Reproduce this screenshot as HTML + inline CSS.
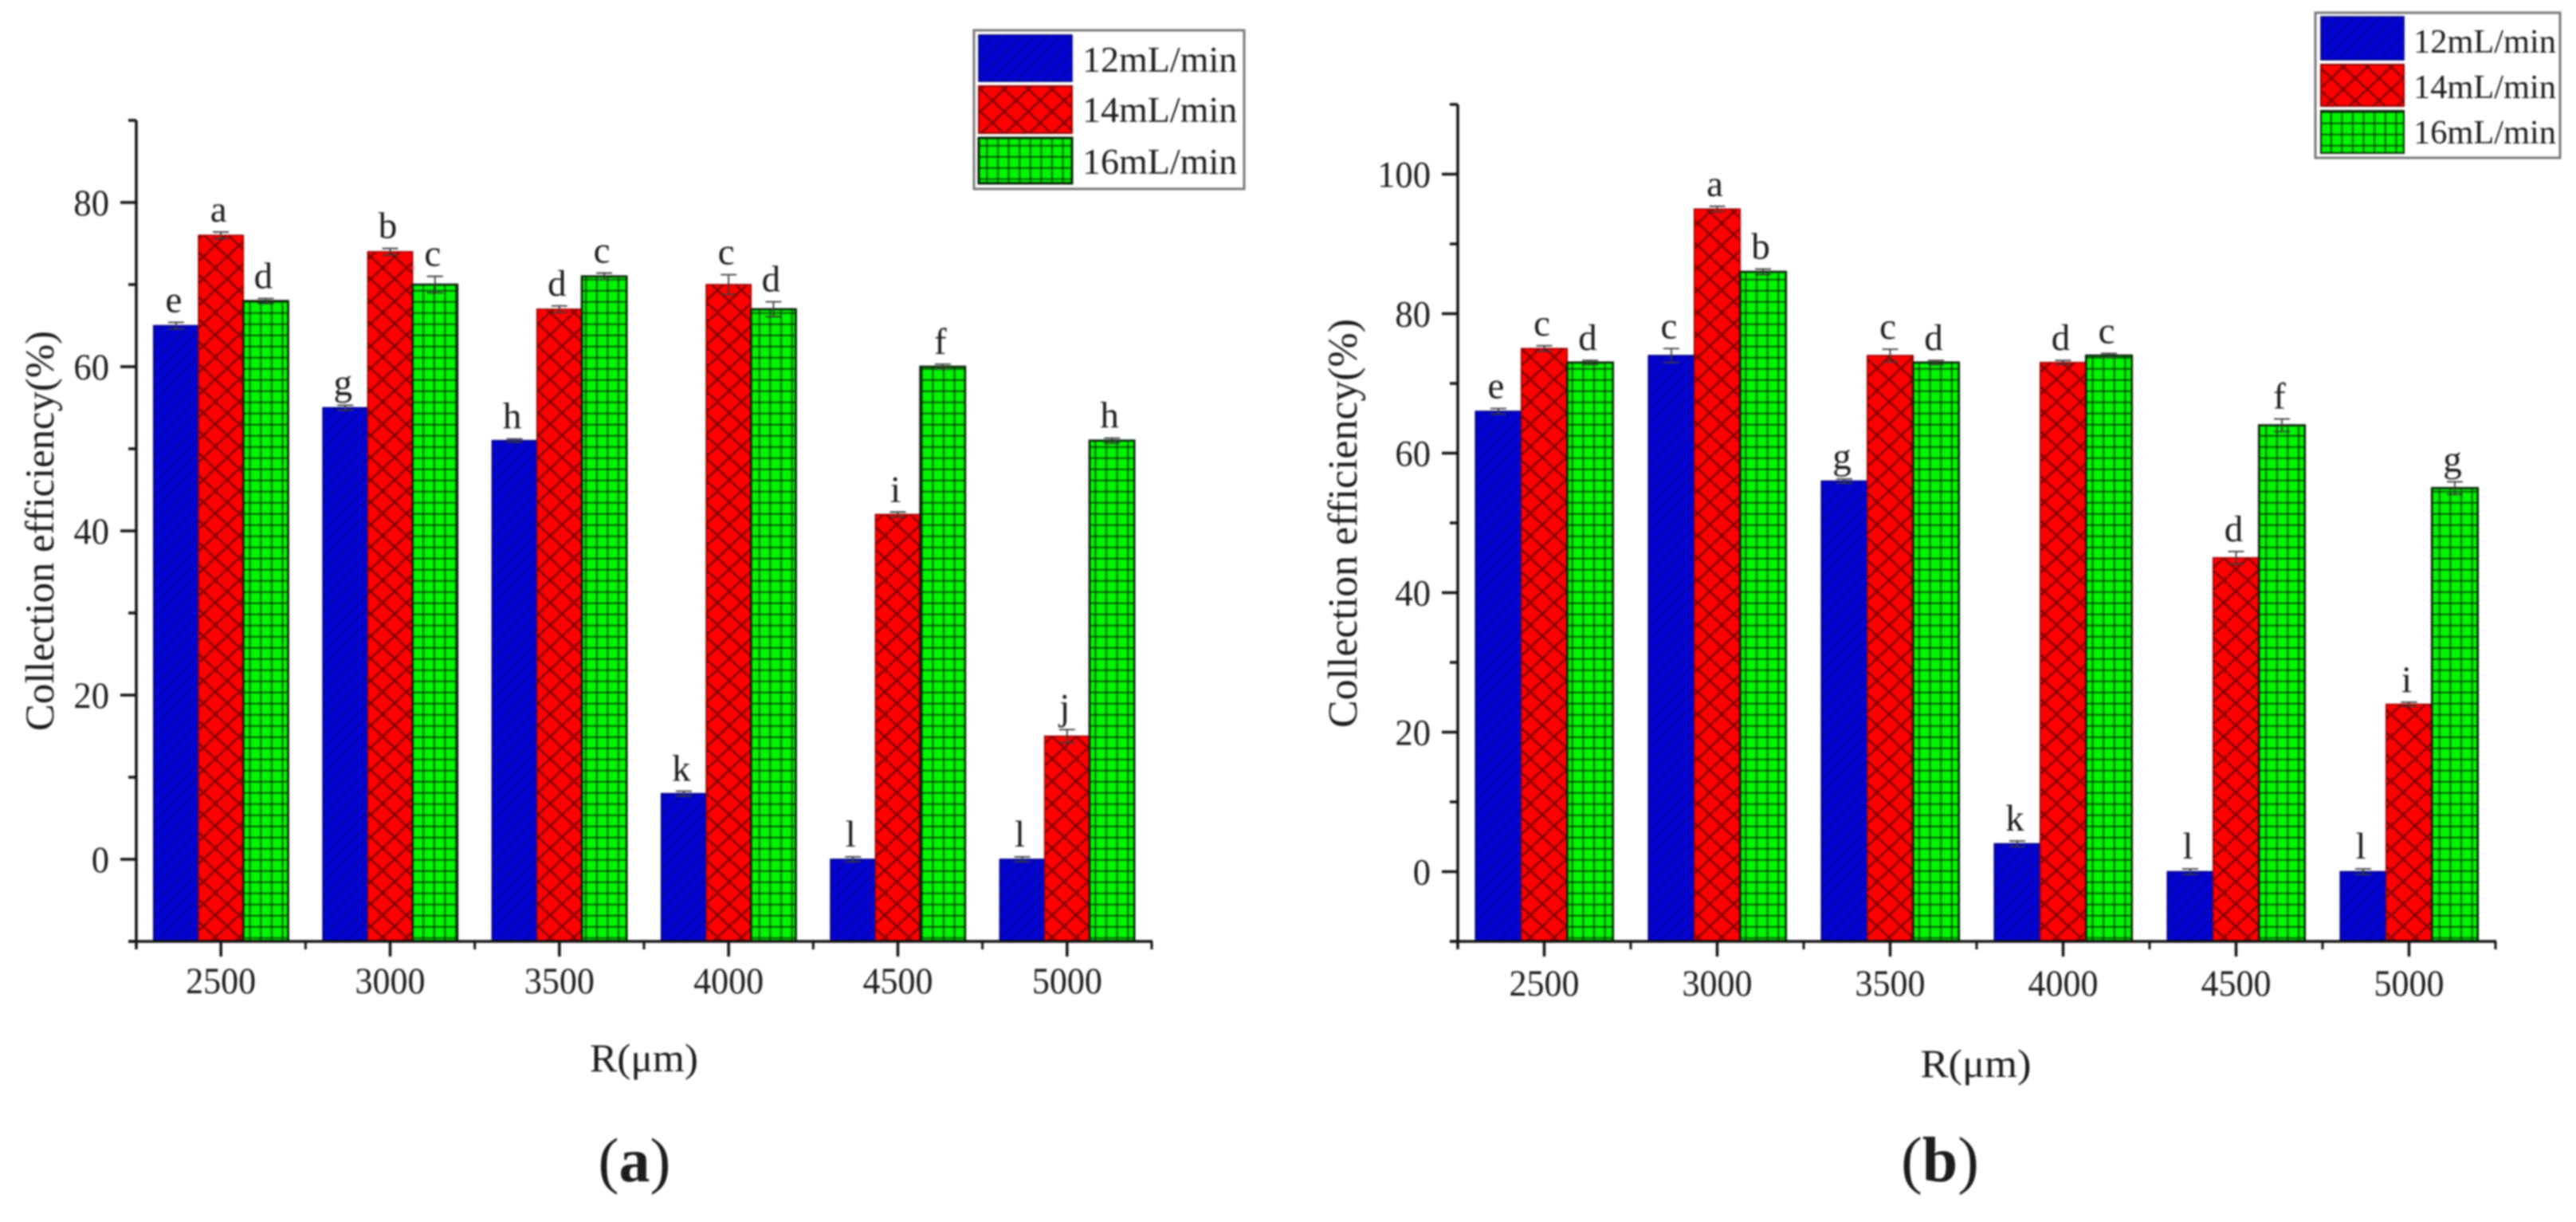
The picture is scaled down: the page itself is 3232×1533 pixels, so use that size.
<!DOCTYPE html>
<html lang="en">
<head>
<meta charset="utf-8">
<title>Collection efficiency vs R</title>
<style>
html,body{margin:0;padding:0;background:#fff;width:3232px;height:1533px;overflow:hidden}
svg{display:block;filter:blur(1px)}
text{font-family:"Liberation Serif",serif;fill:#1c1c1c}
</style>
</head>
<body>
<svg id="figure" xmlns="http://www.w3.org/2000/svg" width="3232" height="1533" viewBox="0 0 3232 1533">
<defs>
<pattern id="hatch-blue" patternUnits="userSpaceOnUse" width="17" height="17">
<rect width="17" height="17" fill="#0303cf"/>
<path d="M-2 2L2 -2M0 17L17 0M15 19L19 15" stroke="#0000a6" stroke-width="1.8"/>
</pattern>
<pattern id="hatch-red" patternUnits="userSpaceOnUse" width="30" height="28">
<rect width="30" height="28" fill="#ff0000"/>
<path d="M0 0L30 28M30 0L0 28" stroke="#860000" stroke-width="2.6"/>
</pattern>
<pattern id="hatch-green" patternUnits="userSpaceOnUse" width="13.6" height="14">
<rect width="13.6" height="14" fill="#00f500"/>
<path d="M0 0H13.6M0 0V14" stroke="#063006" stroke-width="3"/>
</pattern>
</defs>

<rect width="3232" height="1533" fill="#fff"/>

<g id="panel-a"></g>
<g id="panel-b"></g>

<!-- Panel a static text -->
<text transform="translate(67,666) rotate(-90)" text-anchor="middle" font-size="50.5" textLength="502" lengthAdjust="spacingAndGlyphs">Collection efficiency(%)</text>
<text x="808" y="1344" text-anchor="middle" font-size="50" textLength="136" lengthAdjust="spacingAndGlyphs">R(μm)</text>
<text x="796" y="1482" text-anchor="middle" font-size="78">(<tspan font-weight="bold">a</tspan>)</text>

<!-- Panel a legend -->
<g>
<rect x="1222" y="38" width="339" height="199" fill="#fff" stroke="#777" stroke-width="3"/>
<rect x="1228" y="44" width="117" height="58" fill="url(#hatch-blue)" stroke="#00007a" stroke-width="1.6"/>
<rect x="1228" y="108" width="117" height="59" fill="url(#hatch-red)" stroke="#8a0000" stroke-width="2"/>
<rect x="1228" y="173" width="117" height="57" fill="url(#hatch-green)" stroke="#062006" stroke-width="3"/>
<text x="1358" y="90" font-size="46">12mL/min</text>
<text x="1358" y="153" font-size="46">14mL/min</text>
<text x="1358" y="218" font-size="46">16mL/min</text>
</g>

<!-- Panel b static text -->
<text transform="translate(1702,656.5) rotate(-90)" text-anchor="middle" font-size="51.7" textLength="513" lengthAdjust="spacingAndGlyphs">Collection efficiency(%)</text>
<text x="2479" y="1351" text-anchor="middle" font-size="50" textLength="139" lengthAdjust="spacingAndGlyphs">R(μm)</text>
<text x="2434" y="1482" text-anchor="middle" font-size="80">(<tspan font-weight="bold">b</tspan>)</text>

<!-- Panel b legend -->
<g>
<rect x="2905" y="16" width="307" height="182" fill="#fff" stroke="#777" stroke-width="3"/>
<rect x="2912" y="21" width="104" height="54" fill="url(#hatch-blue)" stroke="#00007a" stroke-width="1.6"/>
<rect x="2912" y="81" width="104" height="52" fill="url(#hatch-red)" stroke="#8a0000" stroke-width="2"/>
<rect x="2912" y="139" width="104" height="53" fill="url(#hatch-green)" stroke="#062006" stroke-width="2"/>
<text x="3028" y="66" font-size="42.4">12mL/min</text>
<text x="3028" y="123" font-size="42.4">14mL/min</text>
<text x="3028" y="180" font-size="42.4">16mL/min</text>
</g>
</svg>

<script>
var categories = ['2500', '3000', '3500', '4000', '4500', '5000'];

var a12 = [65, 55, 51, 8, 0, 0];
var a14 = [76, 74, 67, 70, 42, 15];
var a16 = [68, 70, 71, 67, 60, 51];
var aErr12 = [0.4, 0.3, 0.2, 0.3, 0.3, 0.3];
var aErr14 = [0.4, 0.4, 0.4, 1.2, 0.3, 0.8];
var aErr16 = [0.3, 1.0, 0.4, 0.9, 0.3, 0.3];
var aLetters12 = ['e', 'g', 'h', 'k', 'l', 'l'];
var aLetters14 = ['a', 'b', 'd', 'c', 'i', 'j'];
var aLetters16 = ['d', 'c', 'c', 'd', 'f', 'h'];
var aTicks = [0, 20, 40, 60, 80];
var aMinorTicks = [-10, 10, 30, 50, 70, 90];

var b12 = [66, 74, 56, 4, 0, 0];
var b14 = [75, 95, 74, 73, 45, 24];
var b16 = [73, 86, 73, 74, 64, 55];
var bErr12 = [0.4, 1.0, 0.3, 0.4, 0.4, 0.4];
var bErr14 = [0.4, 0.4, 0.9, 0.3, 0.9, 0.3];
var bErr16 = [0.3, 0.4, 0.3, 0.3, 0.9, 0.9];
var bLetters12 = ['e', 'c', 'g', 'k', 'l', 'l'];
var bLetters14 = ['c', 'a', 'c', 'd', 'd', 'i'];
var bLetters16 = ['d', 'b', 'd', 'c', 'f', 'g'];
var bTicks = [0, 20, 40, 60, 80, 100];
var bMinorTicks = [-10, 10, 30, 50, 70, 90, 110];

var seriesKeys = ['12', '14', '16'];
var NS = 'http://www.w3.org/2000/svg';

function make(parent, tag, attrs) {
  var node = document.createElementNS(NS, tag);
  for (var k in attrs) { node.setAttribute(k, attrs[k]); }
  parent.appendChild(node);
  return node;
}

function drawPanel(id, tag, frame, values, errors, letters, ticks, minorTicks) {
  var root = document.getElementById(id);
  function x(i) { return frame.left + (i + 0.5) * (frame.right - frame.left) / categories.length; }
  function y(v) { return frame.bottom - (v - frame.min) * (frame.bottom - frame.top) / (frame.max - frame.min); }
  var fills = ['url(#hatch-blue)', 'url(#hatch-red)', 'url(#hatch-green)'];
  var strokes = ['#00007a', '#9a0000', '#062006'];
  var barW = (frame.right - frame.left) / categories.length * 0.265;

  categories.forEach(function (cat, c) {
    values.forEach(function (series, s) {
      var bx = x(c) + (s - 1.5) * barW;
      var bar = make(root, 'rect', {
        x: bx, y: y(series[c]), width: barW, height: y(frame.min) - y(series[c]),
        fill: fills[s], stroke: strokes[s], 'stroke-width': s === 2 ? 2.6 : 1.6
      });
      
      
    });
  });

  categories.forEach(function (cat, c) {
    values.forEach(function (series, s) {
      var cx = x(c) + (s - 1) * barW;
      var hi = series[c] + errors[s][c];
      var lo = series[c] - errors[s][c];
      var err = make(root, 'path', {
        d: 'M' + (cx - 10) + ' ' + y(hi) + 'H' + (cx + 10) + 'M' + cx + ' ' + y(hi) + 'V' + y(lo) + 'M' + (cx - 10) + ' ' + y(lo) + 'H' + (cx + 10),
        stroke: '#3a3a3a', 'stroke-width': 1.8, fill: 'none'
      });
      
      

      var t = make(root, 'text', {
        x: cx - 3, y: y(hi) - 13, 'text-anchor': 'middle', 'font-size': 47
      });
      t.textContent = letters[s][c];
      
      
    });
  });

  var yAxis = make(root, 'line', { x1: frame.left, x2: frame.left, y1: y(frame.max), y2: y(frame.min) + 9, stroke: '#111', 'stroke-width': 3.5 });
  
  

  var xAxis = make(root, 'line', { x1: frame.left - 10, x2: frame.right + 1, y1: y(frame.min), y2: y(frame.min), stroke: '#111', 'stroke-width': 3.5 });
  
  

  ticks.forEach(function (v) {
    var tick = make(root, 'line', { x1: frame.left - 20, x2: frame.left, y1: y(v), y2: y(v), stroke: '#111', 'stroke-width': 3.5 });
    
    
    var label = make(root, 'text', { x: frame.left - 34, y: y(v) + 16, 'text-anchor': 'end', 'font-size': 47, textLength: String(v).length * 22.3, lengthAdjust: 'spacingAndGlyphs' });
    label.textContent = String(v);
    
    
  });

  minorTicks.forEach(function (v) {
    var tick = make(root, 'line', { x1: frame.left - 10, x2: frame.left, y1: y(v), y2: y(v), stroke: '#111', 'stroke-width': 3.5 });
    
    
  });

  categories.forEach(function (cat, c) {
    var tick = make(root, 'line', { x1: x(c), x2: x(c), y1: y(frame.min), y2: y(frame.min) + 19, stroke: '#111', 'stroke-width': 3.5 });
    
    
    var label = make(root, 'text', { x: x(c), y: frame.labelY, 'text-anchor': 'middle', 'font-size': 47, textLength: cat.length * 22, lengthAdjust: 'spacingAndGlyphs' });
    label.textContent = cat;
    
    
  });

  for (var i = 0; i <= categories.length; i++) {
    var mx = x(i - 0.5);
    var minor = make(root, 'line', { x1: mx, x2: mx, y1: y(frame.min), y2: y(frame.min) + 10, stroke: '#111', 'stroke-width': 3 });
    
    
  }
}

drawPanel('panel-a', 'a',
  { left: 171, right: 1445, top: 151, bottom: 1181, min: -10, max: 90, labelY: 1246 },
  [a12, a14, a16], [aErr12, aErr14, aErr16], [aLetters12, aLetters14, aLetters16], aTicks, aMinorTicks);

drawPanel('panel-b', 'b',
  { left: 1829, right: 3131, top: 131, bottom: 1181, min: -10, max: 110, labelY: 1249 },
  [b12, b14, b16], [bErr12, bErr14, bErr16], [bLetters12, bLetters14, bLetters16], bTicks, bMinorTicks);
</script>
</body>
</html>
